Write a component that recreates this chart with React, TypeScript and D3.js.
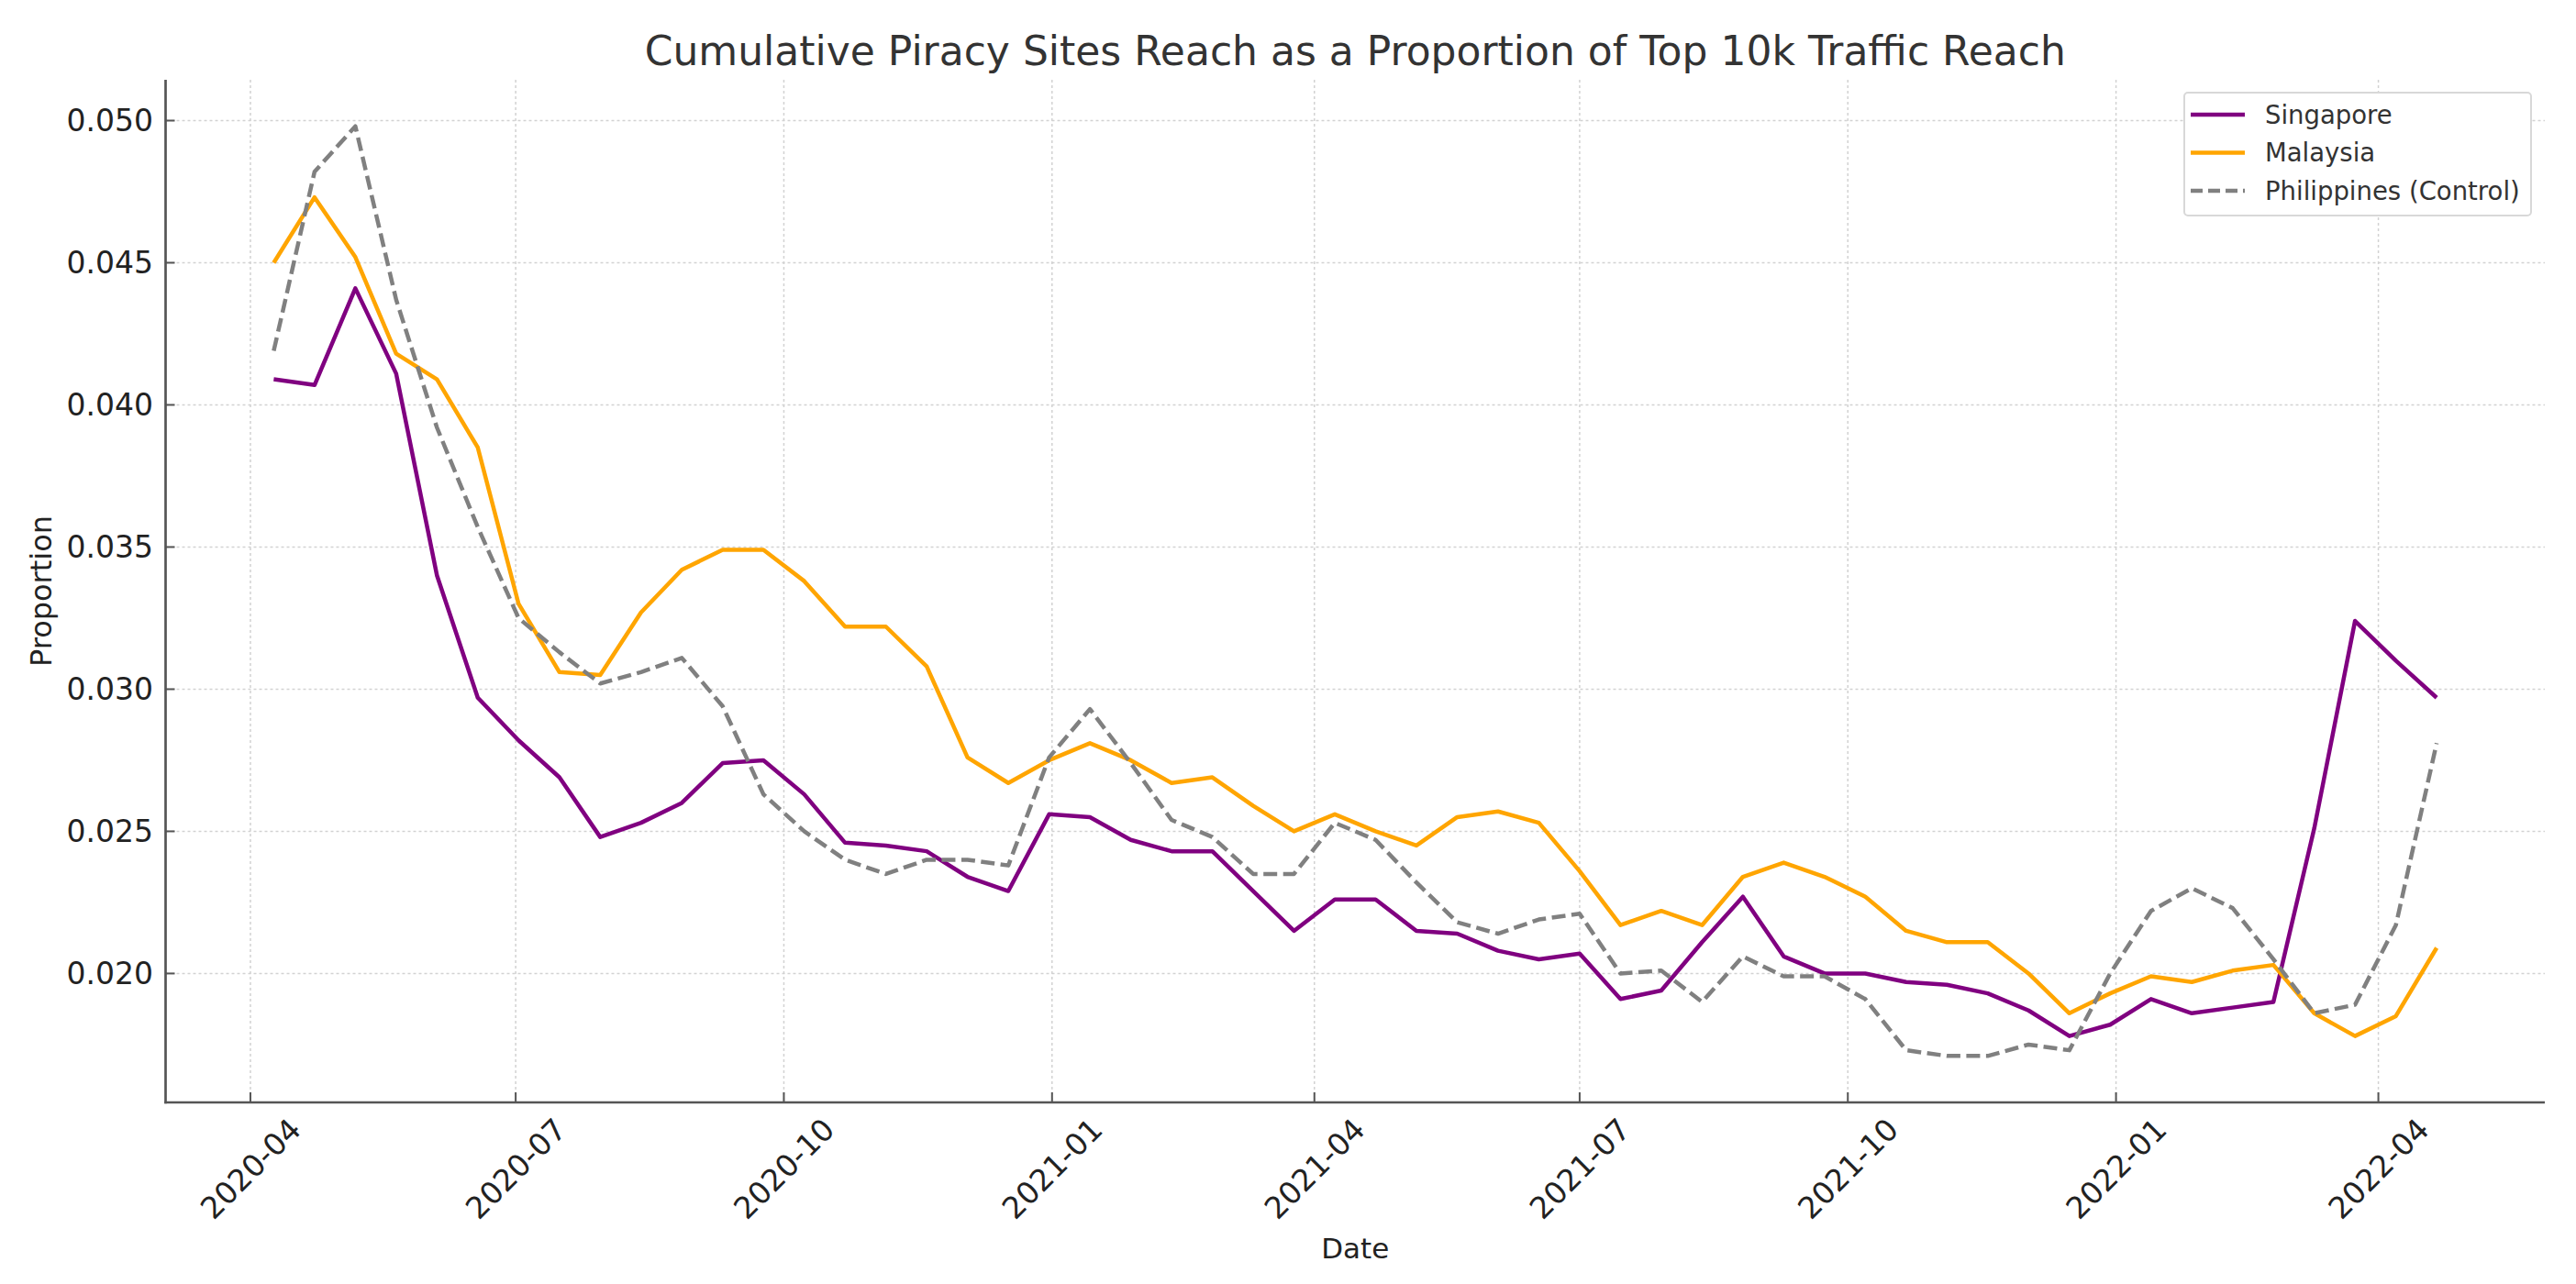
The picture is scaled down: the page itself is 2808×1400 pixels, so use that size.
import { useEffect, useRef } from "react";
import * as d3 from "d3";

// fortnightly sample dates
const dates = [
  "2020-04-09", "2020-04-23", "2020-05-07", "2020-05-21", "2020-06-04", "2020-06-18",
  "2020-07-02", "2020-07-16", "2020-07-30", "2020-08-13", "2020-08-27", "2020-09-10",
  "2020-09-24", "2020-10-08", "2020-10-22", "2020-11-05", "2020-11-19", "2020-12-03",
  "2020-12-17", "2020-12-31", "2021-01-14", "2021-01-28", "2021-02-11", "2021-02-25",
  "2021-03-11", "2021-03-25", "2021-04-08", "2021-04-22", "2021-05-06", "2021-05-20",
  "2021-06-03", "2021-06-17", "2021-07-01", "2021-07-15", "2021-07-29", "2021-08-12",
  "2021-08-26", "2021-09-09", "2021-09-23", "2021-10-07", "2021-10-21", "2021-11-04",
  "2021-11-18", "2021-12-02", "2021-12-16", "2021-12-30", "2022-01-13", "2022-01-27",
  "2022-02-10", "2022-02-24", "2022-03-10", "2022-03-24", "2022-04-07", "2022-04-21",
];

const singapore = [
  0.0409, 0.0407, 0.0441, 0.0411, 0.034, 0.0297, 0.0282, 0.0269, 0.0248, 0.0253,
  0.026, 0.0274, 0.0275, 0.0263, 0.0246, 0.0245, 0.0243, 0.0234, 0.0229, 0.0256,
  0.0255, 0.0247, 0.0243, 0.0243, 0.0229, 0.0215, 0.0226, 0.0226, 0.0215, 0.0214,
  0.0208, 0.0205, 0.0207, 0.0191, 0.0194, 0.0211, 0.0227, 0.0206, 0.02, 0.02,
  0.0197, 0.0196, 0.0193, 0.0187, 0.0178, 0.0182, 0.0191, 0.0186, 0.0188, 0.019,
  0.0251, 0.0324, 0.031, 0.0297,
];

const malaysia = [
  0.045, 0.0473, 0.0452, 0.0418, 0.0409, 0.0385, 0.033, 0.0306, 0.0305, 0.0327,
  0.0342, 0.0349, 0.0349, 0.0338, 0.0322, 0.0322, 0.0308, 0.0276, 0.0267, 0.0275,
  0.0281, 0.0275, 0.0267, 0.0269, 0.0259, 0.025, 0.0256, 0.025, 0.0245, 0.0255,
  0.0257, 0.0253, 0.0236, 0.0217, 0.0222, 0.0217, 0.0234, 0.0239, 0.0234, 0.0227,
  0.0215, 0.0211, 0.0211, 0.02, 0.0186, 0.0193, 0.0199, 0.0197, 0.0201, 0.0203,
  0.0186, 0.0178, 0.0185, 0.0209,
];

const philippines = [
  0.0419, 0.0482, 0.0498, 0.0437, 0.0392, 0.0357, 0.0325, 0.0313, 0.0302, 0.0306,
  0.0311, 0.0294, 0.0263, 0.025, 0.024, 0.0235, 0.024, 0.024, 0.0238, 0.0276,
  0.0293, 0.0274, 0.0254, 0.0248, 0.0235, 0.0235, 0.0253, 0.0247, 0.0232, 0.0218,
  0.0214, 0.0219, 0.0221, 0.02, 0.0201, 0.019, 0.0206, 0.0199, 0.0199, 0.0191,
  0.0173, 0.0171, 0.0171, 0.0175, 0.0173, 0.02, 0.0222, 0.023, 0.0223, 0.0205,
  0.0186, 0.0189, 0.0217, 0.0281,
];

const seriesNames = ["Singapore", "Malaysia", "Philippines (Control)"];
const seriesColors = ["#800080", "#FFA500", "#808080"];
const seriesDash = [null, null, "15,6.5"];
const yTicks = [0.02, 0.025, 0.03, 0.035, 0.04, 0.045, 0.05];
const xTicks = ["2020-04-01", "2020-07-01", "2020-10-01", "2021-01-01", "2021-04-01",
  "2021-07-01", "2021-10-01", "2022-01-01", "2022-04-01"];

const W = 2808;
const H = 1400;
const FONT = "DejaVu Sans, sans-serif";

const App = () => {
  const svgRef = useRef<SVGSVGElement | null>(null);

  useEffect(() => {
    const svg = d3.select(svgRef.current);
    svg.selectAll("*").remove();

    const left = 180.5, right = 2774, top = 87, bottom = 1202;
    const parse = d3.timeParse("%Y-%m-%d");
    const xs = dates.map(d => parse(d) as Date);
    const allSeries = [singapore, malaysia, philippines];

    // matplotlib-like 5% margins
    const [x0, x1] = d3.extent(xs) as [Date, Date];
    const xPad = (+x1 - +x0) * 0.05;
    const x = d3.scaleTime()
      .domain([new Date(+x0 - xPad), new Date(+x1 + xPad)])
      .range([left, right]);

    const allVals = allSeries.flat();
    const yMin = d3.min(allVals) as number;
    const yMax = d3.max(allVals) as number;
    const yPad = (yMax - yMin) * 0.05;
    const y = d3.scaleLinear()
      .domain([yMin - yPad, yMax + yPad])
      .range([bottom, top]);

    svg.append("rect").attr("width", W).attr("height", H).attr("fill", "#fff");

    // grid
    const grid = svg.append("g")
      .attr("stroke", "#d2d2d2")
      .attr("stroke-width", 1.5)
      .attr("stroke-dasharray", "3,3");
    xTicks.forEach(t => {
      const px = x(parse(t) as Date);
      grid.append("line").attr("x1", px).attr("x2", px).attr("y1", top).attr("y2", bottom);
    });
    yTicks.forEach(t => {
      grid.append("line").attr("x1", left).attr("x2", right).attr("y1", y(t)).attr("y2", y(t));
    });

    // lines
    allSeries.forEach((vals, i) => {
      const line = d3.line<number>()
        .x((_, j) => x(xs[j]))
        .y(v => y(v));
      const p = svg.append("path")
        .attr("d", line(vals))
        .attr("fill", "none")
        .attr("stroke", seriesColors[i])
        .attr("stroke-width", 4.5)
        .attr("stroke-linejoin", "round");
      if (seriesDash[i]) p.attr("stroke-dasharray", seriesDash[i] as string);
    });

    // spines
    svg.append("line").attr("x1", left).attr("x2", left).attr("y1", top).attr("y2", bottom + 1.3)
      .attr("stroke", "#555").attr("stroke-width", 2.7);
    svg.append("line").attr("x1", left - 1.3).attr("x2", right).attr("y1", bottom).attr("y2", bottom)
      .attr("stroke", "#555").attr("stroke-width", 2.7);

    // y ticks
    yTicks.forEach(t => {
      svg.append("line").attr("x1", left).attr("x2", left + 10).attr("y1", y(t)).attr("y2", y(t))
        .attr("stroke", "#555").attr("stroke-width", 2);
      svg.append("text")
        .attr("x", 167).attr("y", y(t)).attr("dy", "0.36em")
        .attr("text-anchor", "end")
        .attr("font-family", FONT).attr("font-size", 33).attr("fill", "#222")
        .text(d3.format(".3f")(t));
    });

    // x ticks
    xTicks.forEach(t => {
      const px = x(parse(t) as Date);
      svg.append("line").attr("x1", px).attr("x2", px).attr("y1", bottom).attr("y2", bottom - 11)
        .attr("stroke", "#555").attr("stroke-width", 2);
      svg.append("text")
        .attr("transform", `translate(${px},1274) rotate(-45)`)
        .attr("dy", "0.36em")
        .attr("text-anchor", "middle")
        .attr("font-family", FONT).attr("font-size", 33).attr("fill", "#222")
        .text(d3.timeFormat("%Y-%m")(parse(t) as Date));
    });

    // axis labels + title
    svg.append("text")
      .attr("x", (left + right) / 2).attr("y", 1372)
      .attr("text-anchor", "middle")
      .attr("font-family", FONT).attr("font-size", 31).attr("fill", "#222")
      .text("Date");
    svg.append("text")
      .attr("transform", `translate(56,${(top + bottom) / 2}) rotate(-90)`)
      .attr("text-anchor", "middle")
      .attr("font-family", FONT).attr("font-size", 32).attr("fill", "#222")
      .text("Proportion");
    svg.append("text")
      .attr("x", (left + right) / 2).attr("y", 71)
      .attr("text-anchor", "middle")
      .attr("font-family", FONT).attr("font-size", 44).attr("fill", "#333")
      .text("Cumulative Piracy Sites Reach as a Proportion of Top 10k Traffic Reach");

    // legend
    const lg = svg.append("g").attr("transform", "translate(2381,101)");
    lg.append("rect")
      .attr("width", 378).attr("height", 134).attr("rx", 4)
      .attr("fill", "#fff").attr("stroke", "#d8d8d8").attr("stroke-width", 2);
    seriesNames.forEach((name, i) => {
      const ly = 24 + i * 41.5;
      const hl = lg.append("line")
        .attr("x1", 7).attr("x2", 66).attr("y1", ly).attr("y2", ly)
        .attr("stroke", seriesColors[i]).attr("stroke-width", 4.5);
      if (seriesDash[i]) hl.attr("stroke-dasharray", "13,6");
      lg.append("text")
        .attr("x", 88).attr("y", ly).attr("dy", "0.36em")
        .attr("font-family", FONT).attr("font-size", 27.5).attr("fill", "#333")
        .text(name);
    });
  }, []);

  return (
    <div style={{ position: "absolute", left: 0, top: 0, width: W, height: H }}>
      <svg ref={svgRef} width={W} height={H} style={{ display: "block" }}></svg>
    </div>
  );
};

export default App;
